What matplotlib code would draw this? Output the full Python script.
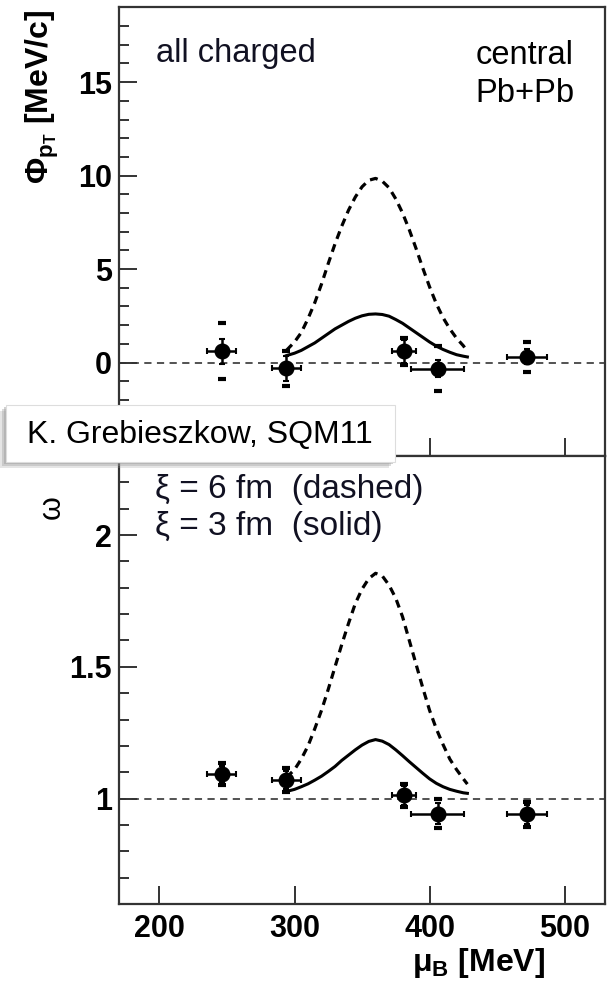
import matplotlib
matplotlib.use('Agg')
import matplotlib.pyplot as plt
from matplotlib.ticker import MultipleLocator, FixedLocator, FuncFormatter, NullFormatter
from matplotlib.patches import Rectangle

plt.rcParams['font.family'] = ['Liberation Sans', 'DejaVu Sans']
plt.rcParams['mathtext.fontset'] = 'custom'
plt.rcParams['mathtext.rm'] = 'Liberation Sans:bold'
plt.rcParams['mathtext.it'] = 'Liberation Sans:bold'
plt.rcParams['mathtext.bf'] = 'Liberation Sans:bold'

# ---- data ----
mu_B = [246, 294, 381, 406, 472]
mu_B_err = [11, 11, 9, 19.5, 15]

phi_pt = [0.6, -0.3, 0.6, -0.33, 0.3]
phi_stat = [0.67, 0.67, 0.6, 0.45, 0.4]
phi_sys = [1.5, 0.94, 0.72, 1.2, 0.8]

omega = [1.093, 1.071, 1.012, 0.942, 0.94]
omega_stat = [0.03, 0.035, 0.035, 0.04, 0.035]
omega_sys = [0.042, 0.047, 0.045, 0.055, 0.047]

model_mu = [294, 300, 305, 310, 315, 320, 325, 330, 335, 340, 345, 350, 355, 360,
            365, 370, 375, 380, 385, 390, 395, 400, 405, 410, 415, 420, 425, 428]
phi_xi6 = [0.65, 1.1, 1.6, 2.35, 3.2, 4.2, 5.3, 6.35, 7.3, 8.15, 8.85, 9.4, 9.75, 9.85,
           9.7, 9.35, 8.75, 8.0, 7.1, 6.1, 5.05, 4.05, 3.15, 2.4, 1.8, 1.3, 0.9, 0.6]
phi_xi3 = [0.37, 0.5, 0.65, 0.85, 1.05, 1.3, 1.55, 1.8, 2.0, 2.2, 2.37, 2.5, 2.58, 2.6,
           2.57, 2.48, 2.3, 2.1, 1.85, 1.6, 1.35, 1.1, 0.88, 0.7, 0.55, 0.42, 0.34, 0.3]
omega_xi6 = [1.08, 1.11, 1.15, 1.2, 1.265, 1.335, 1.415, 1.5, 1.585, 1.665, 1.74, 1.795, 1.835, 1.855,
             1.845, 1.81, 1.76, 1.69, 1.60, 1.51, 1.42, 1.335, 1.265, 1.205, 1.15, 1.11, 1.075, 1.055]
omega_xi3 = [1.027, 1.035, 1.045, 1.056, 1.07, 1.085, 1.103, 1.122, 1.145, 1.165, 1.185, 1.203, 1.217, 1.224,
             1.218, 1.205, 1.185, 1.163, 1.14, 1.118, 1.096, 1.075, 1.058, 1.045, 1.035, 1.028, 1.022, 1.02]

xticks = [200, 300, 400, 500]
phi_ticks = [0, 5, 10, 15]
omega_ticks = [1, 1.5, 2]

fig = plt.figure(figsize=(6.1, 9.92), dpi=100)
ax1 = fig.add_axes([0.195, 0.5403, 0.797, 0.4523])
ax2 = fig.add_axes([0.195, 0.0887, 0.797, 0.4516])

spine_c = '#333333'
TXT = 23.5

def style(ax):
    for s in ax.spines.values():
        s.set_linewidth(1.6)
        s.set_color(spine_c)
    ax.tick_params(which='both', direction='in', top=False, right=False,
                   color=spine_c, width=1.4)
    ax.tick_params(which='major', length=13)
    ax.tick_params(which='minor', length=7)
    ax.tick_params(axis='y', which='major', labelsize=22, pad=5)
    ax.tick_params(axis='x', which='major', labelsize=22, pad=7)
    ax.set_xlim(170, 530)
    ax.set_xticks(xticks)

def draw(ax, y, stat, sys, ref):
    ax.axhline(ref, color='#444444', lw=1.3, ls=(0, (4, 3)), zorder=1)
    ax.errorbar(mu_B, y, xerr=mu_B_err, yerr=stat, fmt='o', color='black',
                ms=10.5, elinewidth=1.8, capsize=2.5, capthick=1.5, zorder=4)
    ax.plot(mu_B, [v + s for v, s in zip(y, sys)], '_', color='black', ms=6, mew=3, zorder=4)
    ax.plot(mu_B, [v - s for v, s in zip(y, sys)], '_', color='black', ms=6, mew=3, zorder=4)

fmt = FuncFormatter(lambda v, p: '%g' % v)

# ---- top panel ----
style(ax1)
ax1.set_ylim(-5, 19)
ax1.yaxis.set_major_locator(FixedLocator(phi_ticks))
ax1.yaxis.set_minor_locator(MultipleLocator(1))
ax1.yaxis.set_major_formatter(fmt)
ax1.xaxis.set_major_formatter(NullFormatter())
for lab in ax1.get_yticklabels():
    lab.set_fontweight('bold')
draw(ax1, phi_pt, phi_stat, phi_sys, 0)
ax1.plot(model_mu, phi_xi6, color='black', lw=2.3, ls=(0, (2.5, 1.8)), zorder=3)
ax1.plot(model_mu, phi_xi3, color='black', lw=2.2, zorder=3)
ax1.set_ylabel('Φ$_{p_{T}}$ [MeV/c]', fontsize=23, fontweight='bold')
ax1.yaxis.set_label_coords(-0.12, 0.80)
ax1.text(0.076, 0.878, 'all charged', transform=ax1.transAxes, fontsize=TXT,
         color='#111122', va='baseline', ha='left')
ax1.text(0.733, 0.874, 'central', transform=ax1.transAxes, fontsize=TXT,
         va='baseline', ha='left')
ax1.text(0.733, 0.789, 'Pb+Pb', transform=ax1.transAxes, fontsize=TXT,
         va='baseline', ha='left')

# ---- bottom panel ----
style(ax2)
ax2.set_ylim(0.6, 2.3)
ax2.yaxis.set_major_locator(FixedLocator(omega_ticks))
ax2.yaxis.set_minor_locator(MultipleLocator(0.1))
ax2.yaxis.set_major_formatter(fmt)
for lab in ax2.get_yticklabels() + ax2.get_xticklabels():
    lab.set_fontweight('bold')
draw(ax2, omega, omega_stat, omega_sys, 1)
ax2.plot(model_mu, omega_xi6, color='black', lw=2.3, ls=(0, (2.5, 1.8)), zorder=3)
ax2.plot(model_mu, omega_xi3, color='black', lw=2.2, zorder=3)
ax2.set_ylabel('ω', fontsize=22, rotation=90)
ax2.yaxis.set_label_coords(-0.108, 0.886)
ax2.set_xlabel('μ$_{B}$ [MeV]', fontsize=23, fontweight='bold', ha='right', va='center')
ax2.xaxis.set_label_coords(0.877, -0.132)
ax2.text(0.074, 0.906, 'ξ = 6 fm  (dashed)', transform=ax2.transAxes, fontsize=24,
         color='#111122', va='baseline', ha='left')
ax2.text(0.074, 0.824, 'ξ = 3 fm  (solid)', transform=ax2.transAxes, fontsize=24,
         color='#111122', va='baseline', ha='left')

# ---- label box with shadow ----
W, H = 610.0, 992.0
bx0, bx1, by0, by1 = 6, 395, 405, 462
for off, a in [(6, 0.25), (4, 0.35), (2, 0.45)]:
    fig.patches.append(Rectangle(((bx0 - off) / W, 1 - (by1 + off) / H),
                                 (bx1 - bx0) / W, (by1 - by0) / H,
                                 transform=fig.transFigure, facecolor='#9a9a9a',
                                 edgecolor='none', alpha=a, zorder=10))
fig.patches.append(Rectangle((bx0 / W, 1 - by1 / H), (bx1 - bx0) / W, (by1 - by0) / H,
                             transform=fig.transFigure, facecolor='white',
                             edgecolor='#dddddd', lw=0.8, zorder=11))
fig.text(27 / W, 1 - 435 / H, 'K. Grebieszkow, SQM11', fontsize=23, va='center',
         ha='left', zorder=12)

fig.savefig('out.png', dpi=100)
